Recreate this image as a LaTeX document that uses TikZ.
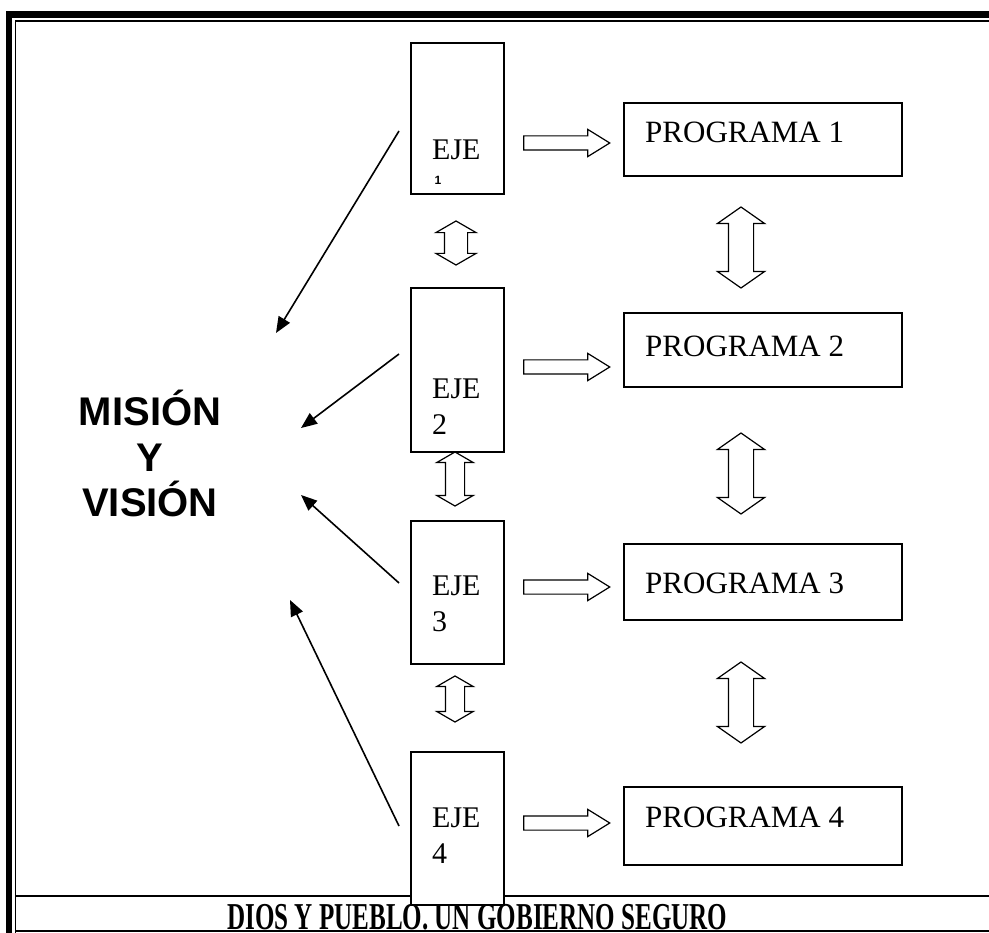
\documentclass[tikz,border=0pt]{standalone}
\usepackage{fontspec}
\setmainfont{Liberation Serif}
\newfontfamily\misfont{Liberation Sans}
\usetikzlibrary{arrows.meta,shapes.arrows,positioning}

\tikzset{
  ejebox/.style={draw, fill=white, line width=1.2pt, minimum width=93pt, inner sep=0pt},
  progbox/.style={draw, line width=1.2pt, minimum width=278pt, inner sep=0pt},
  ejetext/.style={anchor=north west, inner sep=0pt, align=left, font=\fontsize{30}{36}\selectfont},
  progtext/.style={anchor=base west, inner sep=0pt, font=\fontsize{31}{36}\selectfont},
  bigarrow/.style={draw, single arrow, line width=1.2pt, inner xsep=0pt, inner ysep=6.5pt,
    minimum height=86pt, minimum width=26pt, single arrow head extend=6.5pt, single arrow tip angle=63.5},
  smallboth/.style={draw, double arrow, rotate=90, line width=1.2pt, inner xsep=0pt, inner ysep=9pt,
    minimum width=35pt, double arrow head extend=8.5pt, double arrow tip angle=120},
  bigboth/.style={draw, double arrow, rotate=90, line width=1.2pt, inner xsep=0pt, inner ysep=12pt,
    minimum height=81pt, minimum width=46pt, double arrow head extend=11pt, double arrow tip angle=110},
  toMision/.style={-{Triangle[length=16pt,width=13pt]}, line width=1.6pt}
}

\begin{document}
\begin{tikzpicture}[x=1pt, y=-1pt]
\useasboundingbox (0,0) rectangle (989,933);
%
% frame
\draw[line width=6.5pt] (9,940) -- (9,14.5) -- (995,14.5);
\draw[line width=1.6pt] (15.5,940) -- (15.5,21) -- (995,21);
\draw[line width=1.6pt] (15.5,931) -- (995,931);
\draw[line width=1.2pt] (15.5,896) -- (995,896);
%
% lema
\node (LEMA) [anchor=base west, inner sep=0pt, font=\bfseries\fontsize{38}{40}\selectfont] at (227,929) {\scalebox{0.66}[1]{DIOS Y PUEBLO. UN GOBIERNO SEGURO}};
%
% ejes
\node (E1) [ejebox, minimum height=151pt] at (457.5,118.5) {};
\node (E2) [ejebox, minimum height=164pt] at (457.5,370) {};
\node (E3) [ejebox, minimum height=143pt] at (457.5,592.5) {};
\node (E4) [ejebox, minimum height=153pt] at (457.5,828.5) {};
\node (T1) [ejetext] at (432,140) {EJE};
\node (N1) [inner sep=0pt, font=\misfont\bfseries\fontsize{12}{12}\selectfont] at (438,180) {1};
\node (T2) [ejetext] at (432,379) {EJE\\2};
\node (T3) [ejetext] at (432,576) {EJE\\3};
\node (T4) [ejetext] at (432,808) {EJE\\4};
%
% programas
\node (P1) [progbox, minimum height=73pt] at (763,139.5) {};
\node (P2) [progbox, minimum height=74pt] at (763,350) {};
\node (P3) [progbox, minimum height=76pt] at (763,582) {};
\node (P4) [progbox, minimum height=78pt] at (763,826) {};
\node (Q1) [progtext] at (645,143) {PROGRAMA 1};
\node (Q2) [progtext] at (645,357) {PROGRAMA 2};
\node (Q3) [progtext] at (645,593) {PROGRAMA 3};
\node (Q4) [progtext] at (645,827) {PROGRAMA 4};
%
% flechas huecas
\node (B1) [bigarrow] at (561,143) {};
\node (B2) [bigarrow] at (561,367) {};
\node (B3) [bigarrow] at (561,587) {};
\node (B4) [bigarrow] at (561,823) {};
\node (D1) [smallboth, minimum height=44pt, inner ysep=11pt, minimum width=36pt] at (456,243) {};
\node (D2) [smallboth, minimum height=54pt] at (455,479) {};
\node (D3) [smallboth, minimum height=46pt] at (455,699) {};
\node (R1) [bigboth] at (741,247.5) {};
\node (R2) [bigboth] at (741,473.5) {};
\node (R3) [bigboth] at (741,702.5) {};
%
% mision
\node (MV) [anchor=base, align=center, inner sep=0pt, font=\misfont\bfseries\fontsize{40}{46}\selectfont] at (150,517) {MISIÓN\\Y\\VISIÓN};
\coordinate (s1) at (399,131);
\coordinate (s2) at (399,354);
\coordinate (s3) at (399,583);
\coordinate (s4) at (399,826);
\coordinate (m1) at (276,333);
\coordinate (m2) at (301,428);
\coordinate (m3) at (301,495);
\coordinate (m4) at (290,600);
\draw[toMision] (s1) -- (m1);
\draw[toMision] (s2) -- (m2);
\draw[toMision] (s3) -- (m3);
\draw[toMision] (s4) -- (m4);
\end{tikzpicture}
\end{document}
